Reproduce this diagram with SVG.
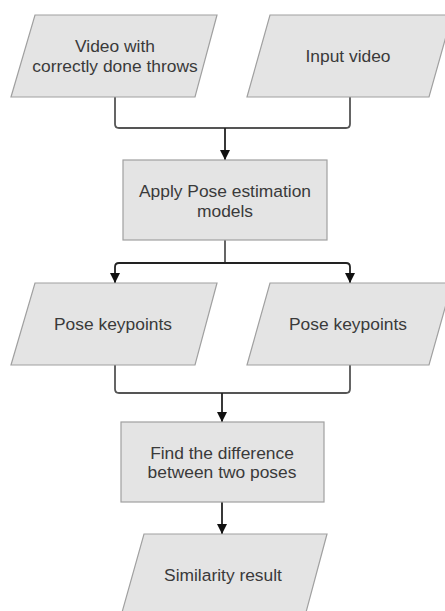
<svg xmlns="http://www.w3.org/2000/svg" width="445" height="611" viewBox="0 0 445 611">
  <style>
    .shape { fill: #e4e4e4; stroke: #a0a0a0; stroke-width: 1.2; }
    .label { font-family: "Liberation Sans", Arial, sans-serif; font-size: 17.4px; fill: #3a3a3a; text-anchor: middle; }
    .wire { fill: none; stroke: #555555; stroke-width: 1.8; stroke-linejoin: round; }
    .arrow { fill: none; stroke: #222222; stroke-width: 1.8; }
  </style>
  <defs>
    <!-- solid triangular head, drawn along +x and turned by orient="auto" -->
    <marker id="head" markerWidth="10" markerHeight="10" refX="10" refY="5" orient="auto" markerUnits="userSpaceOnUse" viewBox="0 0 10 10">
      <path d="M0,0 L10,5 L0,10 Z" fill="#111111"/>
    </marker>
  </defs>
  <rect width="445" height="611" fill="#ffffff"/>

  <g id="connectors">
    <path class="wire" d="M115,97 V124 Q115,128 119,128 H346 Q350,128 350,124 V97"/>
    <path class="arrow" d="M225,128 V160" marker-end="url(#head)"/>
    <path class="wire" d="M225,240 V263"/>
    <path class="arrow" d="M119,263 H346"/>
    <path class="arrow" d="M119,263 Q115,263 115,267 V283" marker-end="url(#head)"/>
    <path class="arrow" d="M346,263 Q350,263 350,267 V283" marker-end="url(#head)"/>
    <path class="wire" d="M115,365 V389 Q115,393 119,393 H346 Q350,393 350,389 V365"/>
    <path class="arrow" d="M222,393 V422" marker-end="url(#head)"/>
    <path class="arrow" d="M222,502 V534" marker-end="url(#head)"/>
  </g>

  <g id="video-reference">
    <polygon class="shape" points="35,15 217,15 195,97 11,97"/>
    <text class="label" x="115" y="52">Video with</text>
    <text class="label" x="115" y="72">correctly done throws</text>
  </g>

  <g id="input-video">
    <polygon class="shape" points="270,15 452,15 429,97 247,97"/>
    <text class="label" x="348" y="62">Input video</text>
  </g>

  <g id="pose-estimation">
    <rect class="shape" x="123" y="160" width="204" height="80"/>
    <text class="label" x="225" y="197">Apply Pose estimation</text>
    <text class="label" x="225" y="217">models</text>
  </g>

  <g id="keypoints-reference">
    <polygon class="shape" points="35,283 217,283 195,365 11,365"/>
    <text class="label" x="113" y="330">Pose keypoints</text>
  </g>

  <g id="keypoints-input">
    <polygon class="shape" points="270,283 452,283 429,365 247,365"/>
    <text class="label" x="348" y="330">Pose keypoints</text>
  </g>

  <g id="pose-difference">
    <rect class="shape" x="121" y="422" width="203" height="80"/>
    <text class="label" x="222" y="459">Find the difference</text>
    <text class="label" x="222" y="478">between two poses</text>
  </g>

  <g id="similarity-result">
    <polygon class="shape" points="144,534 327,534 305,616 121,616"/>
    <text class="label" x="223" y="581">Similarity result</text>
  </g>
</svg>
